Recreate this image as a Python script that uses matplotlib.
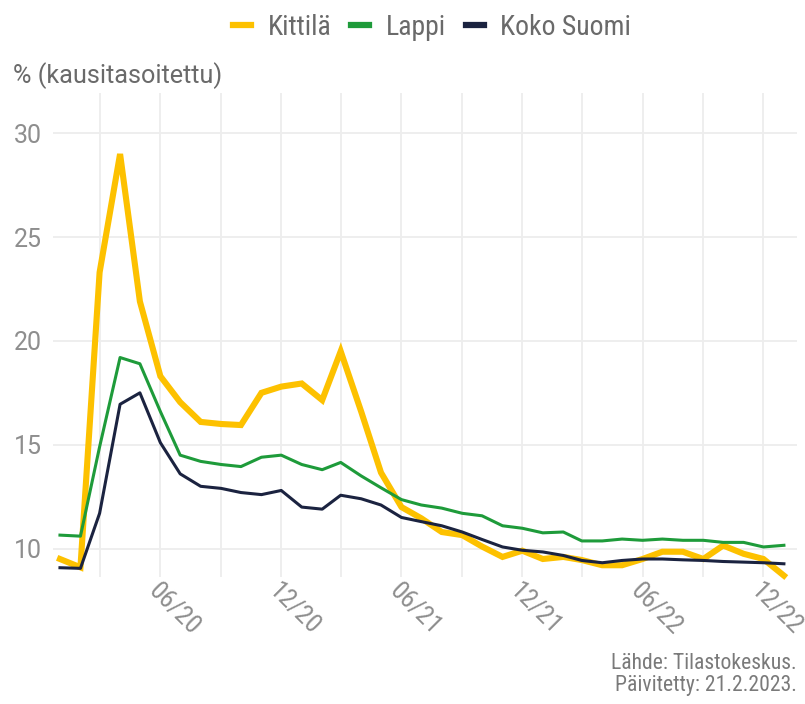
import matplotlib
matplotlib.use('Agg')
import matplotlib.pyplot as plt
import matplotlib.dates as mdates
from matplotlib.lines import Line2D
from matplotlib import font_manager
import pandas as pd

# data, monthly 1/2020 - 1/2023
months = pd.date_range('2020-01-01', periods=37, freq='MS')

kittila = [9.5, 9.1, 23.3, 29.0, 21.9, 18.3, 17.05, 16.1, 16.0, 15.95,
           17.5, 17.8, 17.95, 17.15, 19.5, 16.6, 13.66, 12.0, 11.46, 10.8,
           10.65, 10.1, 9.6, 9.9, 9.5, 9.6, 9.45, 9.2, 9.2, 9.5,
           9.85, 9.85, 9.5, 10.15, 9.75, 9.5, 8.7]
lappi = [10.65, 10.6, 14.9, 19.2, 18.9, 16.6, 14.5, 14.2, 14.05, 13.95,
         14.4, 14.5, 14.05, 13.8, 14.15, 13.5, 12.93, 12.36, 12.1, 11.95,
         11.7, 11.58, 11.1, 10.98, 10.76, 10.8, 10.37, 10.37, 10.46, 10.4,
         10.46, 10.4, 10.4, 10.3, 10.3, 10.08, 10.16]
koko_suomi = [9.08, 9.05, 11.7, 16.95, 17.5, 15.1, 13.6, 13.0, 12.9, 12.7,
              12.6, 12.8, 12.0, 11.9, 12.57, 12.4, 12.1, 11.5, 11.3, 11.1,
              10.8, 10.44, 10.08, 9.92, 9.84, 9.67, 9.43, 9.32, 9.43, 9.5,
              9.5, 9.46, 9.43, 9.38, 9.35, 9.32, 9.27]

series_names = ['Kittilä', 'Lappi', 'Koko Suomi']
y_ticks = [10, 15, 20, 25, 30]
y_title = '% (kausitasoitettu)'
source_text = 'Lähde: Tilastokeskus.\nPäivitetty: 21.2.2023.'

col_kittila = '#FDC100'
col_lappi = '#1E9B3A'
col_koko = '#1B2340'
grid_col = '#EDEDED'

# fonts (condensed one if there is any)
installed = set(f.name for f in font_manager.fontManager.ttflist)
narrow = 'Roboto'
for cand in ['Roboto Condensed', 'Open Sans Condensed', 'Liberation Sans Narrow']:
    if cand in installed:
        narrow = cand
        break
plt.rcParams['font.family'] = ['Roboto', 'DejaVu Sans']

fig = plt.figure(figsize=(8.05, 7.04), dpi=100)
ax = fig.add_axes([0.0658, 0.180, 0.924, 0.688])

ax.plot(months, kittila, color=col_kittila, lw=4.4, solid_joinstyle='miter', zorder=3, clip_on=False)
ax.plot(months, lappi, color=col_lappi, lw=2.2, zorder=4, clip_on=False)
ax.plot(months, koko_suomi, color=col_koko, lw=2.2, zorder=5, clip_on=False)

ax.set_ylim(8.62, 31.94)
ax.set_yticks(y_ticks)
ax.set_xlim(months[0] - pd.Timedelta(days=10.6), months[-1] + pd.Timedelta(days=19.5))

ax.xaxis.set_major_locator(mdates.MonthLocator(bymonth=[3, 6, 9, 12]))
def fmt(x, pos):
    d = mdates.num2date(x)
    if d.month in (6, 12):
        return d.strftime('%m/%y')
    return ''
ax.xaxis.set_major_formatter(plt.FuncFormatter(fmt))

ax.grid(True, color=grid_col, lw=1.3)
ax.set_axisbelow(True)
for s in ax.spines.values():
    s.set_visible(False)
ax.tick_params(axis='both', length=0)
ax.tick_params(axis='y', labelsize=18, labelcolor='#8E8E8E', pad=8)
ax.tick_params(axis='x', pad=1)
for lab in ax.get_xticklabels():
    lab.set_rotation(-45)
    lab.set_ha('left')
    lab.set_va('top')
    lab.set_rotation_mode('anchor')
    lab.set_fontsize(19)
    lab.set_color('#8E8E8E')
    lab.set_family([narrow, 'DejaVu Sans'])

fig.text(0.016, 0.882, y_title, fontsize=18.2, color='#6A6A6A', ha='left', va='baseline')

handles = [Line2D([], [], color=c, lw=4.5) for c in (col_kittila, col_lappi, col_koko)]
fig.legend(handles, series_names, loc='upper center', bbox_to_anchor=(0.537, 1.016),
           ncol=3, frameon=False, handlelength=0.65, handletextpad=0.6, columnspacing=0.7,
           prop={'family': [narrow, 'DejaVu Sans'], 'size': 20}, labelcolor='#6A6A6A')

fig.text(0.99, 0.012, source_text, ha='right', va='bottom', fontsize=15.6,
         color='#7A7A7A', family=[narrow, 'DejaVu Sans'], linespacing=1.05)

fig.savefig('out.png', dpi=100)
